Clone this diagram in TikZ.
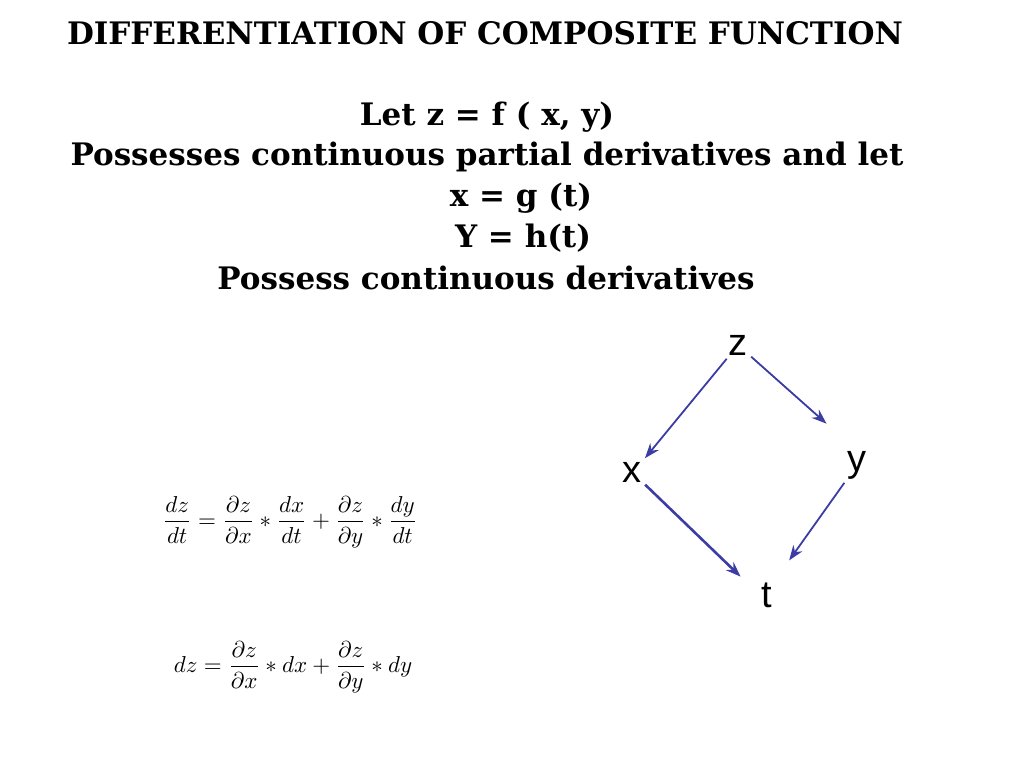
\documentclass[tikz,border=0pt]{standalone}
\usepackage{fontspec}
\usepackage{graphicx}
\setmainfont{DejaVu Serif}
\newfontfamily\lsans{Liberation Sans}
\usetikzlibrary{arrows.meta}
\begin{document}
\begin{tikzpicture}[x=1pt,y=-1pt,
  hd/.style={font=\fontsize{31}{34}\selectfont\bfseries, inner sep=0pt},
  vv/.style={font=\lsans\fontsize{38}{40}\selectfont, inner sep=2pt},
  arr/.style={draw={rgb,255:red,60;green,60;blue,165}, line width=1.8pt, -{Stealth[length=15pt,width=11pt]}, shorten >=2pt, shorten <=2pt},
  fm/.style={inner sep=0pt}]
\useasboundingbox (0,0) rectangle (1024,768);
\node[hd] (t0) at (485,33) {DIFFERENTIATION OF COMPOSITE FUNCTION};
\node[hd] (t1) at (487,117) {Let z = f ( x, y)};
\node[hd] (t2) at (487,157) {Possesses continuous partial derivatives and let};
\node[hd] (t3) at (521,198) {x = g (t)};
\node[hd] (t4) at (523,238) {Y = h(t)};
\node[hd] (t5) at (486,278) {Possess continuous derivatives};
\node[fm] (f1) at (290,522) {\scalebox{2.3}{$\displaystyle \frac{dz}{dt}=\frac{\partial z}{\partial x}*\frac{dx}{dt}+\frac{\partial z}{\partial y}*\frac{dy}{dt}$}};
\node[fm] (f2) at (293,667) {\scalebox{2.3}{$\displaystyle dz=\frac{\partial z}{\partial x}*dx+\frac{\partial z}{\partial y}*dy$}};
\node[vv] (z) at (738,345) {z};
\node[vv] (x) at (632,472) {x};
\node[vv] (y) at (857,465) {y};
\node[vv] (t) at (767,595) {t};
\draw[arr] (z) -- (x.north east);
\draw[arr] (z) -- (828,425);
\draw[arr, line width=2.6pt] (x) -- (742,578);
\draw[arr] (y) -- (788,562);
\end{tikzpicture}
\end{document}
